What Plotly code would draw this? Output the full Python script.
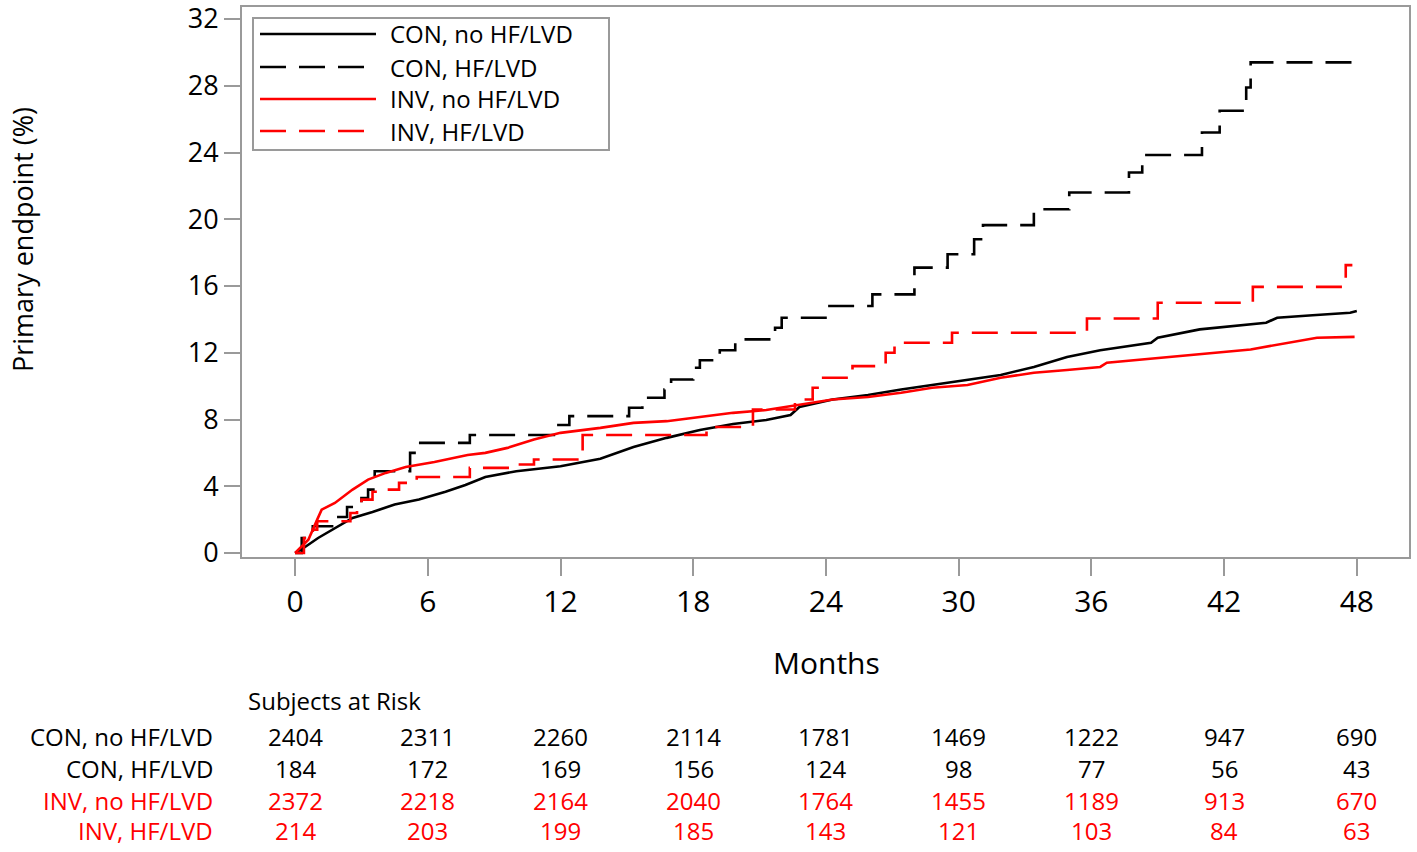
import plotly.graph_objects as go

# ---------------- data ----------------
months_ticks = [0, 6, 12, 18, 24, 30, 36, 42, 48]
y_ticks = [0, 4, 8, 12, 16, 20, 24, 28, 32]

series_names = ["CON, no HF/LVD", "CON, HF/LVD", "INV, no HF/LVD", "INV, HF/LVD"]

con_nohf_t = [0, 0.45, 1.04, 1.8, 2.6, 3.5, 4.5, 5.6, 6.8, 7.7, 8.6, 10.0, 12.0, 13.8, 15.3, 16.8,
              18.3, 19.8, 21.3, 22.4, 22.8, 24.3, 25.9, 27.4, 28.8, 30.4, 31.9, 33.4, 34.9, 36.4,
              38.7, 39.0, 40.9, 43.9, 44.4, 46.0, 47.7, 48.0]
con_nohf_v = [0, 0.36, 0.9, 1.5, 2.1, 2.46, 2.9, 3.2, 3.67, 4.07, 4.55, 4.9, 5.2, 5.65, 6.35, 6.9,
              7.37, 7.73, 7.97, 8.27, 8.75, 9.2, 9.47, 9.8, 10.07, 10.37, 10.67, 11.15, 11.75, 12.15,
              12.6, 12.9, 13.4, 13.8, 14.1, 14.25, 14.4, 14.5]

con_hf_t = [0, 0.3, 0.8, 1.8, 2.35, 3.0, 3.3, 3.6, 5.2, 5.4, 7.9, 11.7, 12.4, 15.1, 15.7, 16.7,
            17.0, 18.0, 18.3, 19.2, 19.9, 21.7, 22.0, 24.05, 26.1, 28.0, 29.5, 30.7, 31.1, 33.4,
            35.0, 37.7, 38.3, 41.0, 41.8, 43.0, 43.2, 48.0]
con_hf_v = [0, 0.9, 1.6, 2.16, 2.76, 3.3, 3.8, 4.9, 6.0, 6.6, 7.07, 7.67, 8.2, 8.7, 9.3, 9.8,
            10.4, 11.1, 11.55, 12.15, 12.8, 13.5, 14.1, 14.8, 15.5, 17.1, 17.9, 18.8, 19.65, 20.6,
            21.6, 22.8, 23.85, 25.2, 26.5, 27.9, 29.4, 29.4]

inv_nohf_t = [0, 0.6, 1.0, 1.2, 1.8, 2.6, 3.3, 4.1, 5.0, 6.3, 7.8, 8.6, 9.6, 10.8, 12.0, 13.8,
              15.3, 16.8, 18.3, 19.8, 21.3, 22.8, 24.3, 25.9, 27.4, 28.8, 30.4, 31.9, 33.4, 34.9,
              36.4, 36.7, 39.2, 40.5, 43.2, 46.2, 47.9]
inv_nohf_v = [0, 0.8, 2.0, 2.6, 3.0, 3.8, 4.4, 4.8, 5.15, 5.45, 5.87, 6.0, 6.3, 6.8, 7.2, 7.5,
              7.8, 7.9, 8.15, 8.4, 8.57, 8.87, 9.2, 9.35, 9.6, 9.9, 10.07, 10.5, 10.8, 10.97,
              11.15, 11.4, 11.7, 11.9, 12.2, 12.9, 12.95]

inv_hf_t = [0, 0.4, 0.8, 1.0, 2.5, 2.8, 3.0, 3.5, 4.1, 4.7, 5.5, 7.9, 9.9, 10.8, 13.0, 18.6,
            20.7, 22.6, 23.4, 23.7, 25.2, 26.7, 27.1, 29.7, 35.8, 39.0, 43.3, 47.5, 47.8]
inv_hf_v = [0, 0.9, 1.4, 1.9, 2.4, 2.9, 3.2, 3.67, 3.8, 4.2, 4.55, 5.1, 5.3, 5.6, 7.07, 7.55,
            8.6, 9.2, 9.9, 10.5, 11.2, 12.0, 12.6, 13.2, 14.05, 15.0, 15.95, 17.25, 17.25]

risk_con_nohf = [2404, 2311, 2260, 2114, 1781, 1469, 1222, 947, 690]
risk_con_hf = [184, 172, 169, 156, 124, 98, 77, 56, 43]
risk_inv_nohf = [2372, 2218, 2164, 2040, 1764, 1455, 1189, 913, 670]
risk_inv_hf = [214, 203, 199, 185, 143, 121, 103, 84, 63]

# ---------------- styling ----------------
BLACK = "#000000"
RED = "#FF0000"
GRAY = "#9a9a9a"
FONT = "Open Sans"
DASH = "26px,13px"
LW = 2.6
TXT = 24

W, H = 1417, 852
L, R, T, B = 242, 8, 7, 295
PW, PH = W - L - R, H - T - B


def xp(px):
    return (px - L) / PW


def yp(py):
    return (H - B - py) / PH


fig = go.Figure()

curves = [
    (con_nohf_t, con_nohf_v, BLACK, "solid", "linear"),
    (con_hf_t, con_hf_v, BLACK, DASH, "hv"),
    (inv_nohf_t, inv_nohf_v, RED, "solid", "linear"),
    (inv_hf_t, inv_hf_v, RED, DASH, "hv"),
]
for name, (t, v, c, d, shp) in zip(series_names, curves):
    fig.add_trace(go.Scatter(x=t, y=v, mode="lines", name=name,
                             line=dict(color=c, width=LW, dash=d, shape=shp),
                             showlegend=False, hoverinfo="skip"))

axis_common = dict(showgrid=False, zeroline=False, showline=True, linecolor=GRAY, linewidth=2,
                   mirror=True, ticks="outside", tickcolor=GRAY, tickwidth=2,
                   ticklabeloverflow="allow", automargin=False)
fig.update_xaxes(range=[-2.4, 50.36], tickvals=months_ticks, ticklen=17,
                 tickfont=dict(family=FONT, size=30, color="black"), **axis_common)
fig.update_yaxes(range=[-0.24, 32.72], tickvals=y_ticks, ticklen=16,
                 tickfont=dict(family=FONT, size=27, color="black"), **axis_common)

shapes = []
annotations = []

# legend box
shapes.append(dict(type="rect", xref="paper", yref="paper", x0=xp(253), x1=xp(609),
                   y0=yp(150), y1=yp(18), line=dict(color=GRAY, width=2), fillcolor="white",
                   layer="above"))
leg_rows = [34, 67, 99, 131]
leg_styles = [(BLACK, "solid"), (BLACK, DASH), (RED, "solid"), (RED, DASH)]
for name, row, (c, d) in zip(series_names, leg_rows, leg_styles):
    shapes.append(dict(type="line", xref="paper", yref="paper", x0=xp(260), x1=xp(376),
                       y0=yp(row), y1=yp(row), line=dict(color=c, width=LW, dash=d), layer="above"))
    annotations.append(dict(xref="paper", yref="paper", x=xp(388), y=yp(row), text=name,
                            showarrow=False, xanchor="left", yanchor="middle",
                            font=dict(family=FONT, size=TXT, color="black")))

# axis titles
annotations.append(dict(xref="paper", yref="paper", x=xp(826), y=yp(662), text="Months",
                        showarrow=False, xanchor="center", yanchor="middle",
                        font=dict(family=FONT, size=30, color="black")))
annotations.append(dict(xref="paper", yref="paper", x=xp(22), y=yp(239),
                        text="Primary endpoint (%)", textangle=-90, showarrow=False,
                        xanchor="center", yanchor="middle",
                        font=dict(family=FONT, size=27, color="black")))

# risk table
annotations.append(dict(xref="paper", yref="paper", x=xp(246), y=yp(700), text="Subjects at Risk",
                        showarrow=False, xanchor="left", yanchor="middle",
                        font=dict(family=FONT, size=TXT, color="black")))
risk_rows = [(risk_con_nohf, BLACK, 736), (risk_con_hf, BLACK, 768),
             (risk_inv_nohf, RED, 800), (risk_inv_hf, RED, 831)]
for name, (vals, c, row) in zip(series_names, risk_rows):
    annotations.append(dict(xref="paper", yref="paper", x=xp(215), y=yp(row), text=name,
                            showarrow=False, xanchor="right", yanchor="middle",
                            font=dict(family=FONT, size=TXT, color=c)))
    for m, n in zip(months_ticks, vals):
        annotations.append(dict(xref="x", yref="paper", x=m, y=yp(row), text=str(n),
                                showarrow=False, xanchor="center", yanchor="middle",
                                font=dict(family=FONT, size=TXT, color=c)))

fig.update_layout(width=W, height=H, autosize=False,
                  margin=dict(l=L, r=R, t=T, b=B, pad=0, autoexpand=False),
                  plot_bgcolor="white", paper_bgcolor="white", showlegend=False,
                  font=dict(family=FONT, color="black"),
                  shapes=shapes, annotations=annotations)

fig.write_html("out.html", config={"displayModeBar": False},
               post_script="document.body.style.margin='0';document.body.style.overflow='hidden';")
